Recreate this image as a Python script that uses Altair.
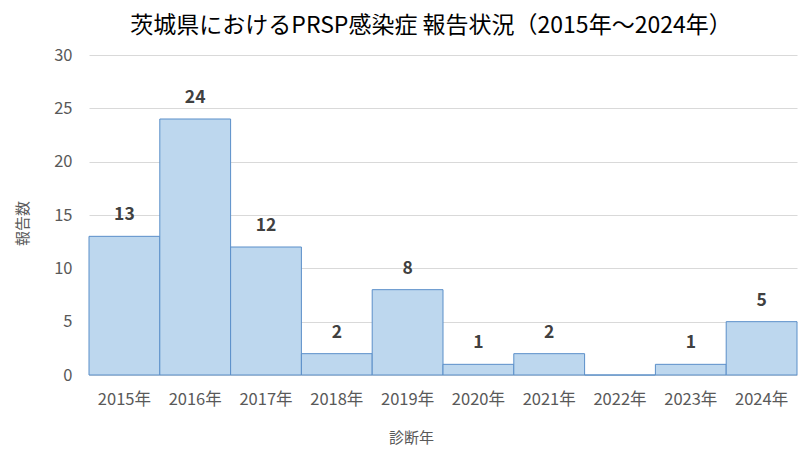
import altair as alt
import pandas as pd

years = ["2015年", "2016年", "2017年", "2018年", "2019年", "2020年", "2021年", "2022年", "2023年", "2024年"]
counts = [13, 24, 12, 2, 8, 1, 2, 0, 1, 5]
labels = ["13", "24", "12", "2", "8", "1", "2", "", "1", "5"]

df = pd.DataFrame({"year": years, "count": counts, "label": labels})

FONT = "Noto Sans CJK JP"

x = alt.X("year:N", sort=years,
          scale=alt.Scale(paddingInner=0, paddingOuter=0),
          axis=alt.Axis(title="診断年", labelAngle=0, labelFontSize=16.5, labelColor="#595959",
                        labelFont=FONT, labelPadding=16, ticks=False, domain=True,
                        domainColor="#D9D9D9", titleFontSize=15, titleColor="#595959",
                        titleFont=FONT, titleFontWeight="normal", titleX=322, titleY=62,
                        titleBaseline="middle", titleAnchor="start", titleAlign="center"))
y = alt.Y("count:Q",
          scale=alt.Scale(domain=[0, 30]),
          axis=alt.Axis(title="報告数", values=[0, 5, 10, 15, 20, 25, 30], labelFontSize=16.5,
                        labelColor="#595959", labelFont=FONT, labelPadding=17, ticks=False,
                        domain=False, gridColor="#D9D9D9", titleFontSize=15, titleColor="#595959",
                        titleFont=FONT, titleFontWeight="normal", titleX=-67, titleY=168,
                        titleAngle=-90, titleBaseline="middle", titleAlign="center", titleAnchor="start"))

bars = alt.Chart(df).mark_bar(fill="#BDD7EE", stroke="#5B8FC9", strokeWidth=1).encode(x=x, y=y)

text = alt.Chart(df).mark_text(fontSize=17.5, fontWeight="bold", color="#404040", dy=-21,
                               baseline="middle", font=FONT).encode(
    x=alt.X("year:N", sort=years), y="count:Q", text="label:N")

chart = (bars + text).properties(
    width=708, height=320,
    autosize=alt.AutoSizeParams(type="none"),
    padding={"left": 81, "top": 47, "right": 5, "bottom": 76},
    title=alt.TitleParams("茨城県におけるPRSP感染症 報告状況（2015年～2024年）", fontSize=23,
                          font=FONT, fontWeight="normal", color="#000000", anchor="middle",
                          dx=-12, offset=9),
).configure_view(stroke=None)

chart.save("out.html", embed_options={"renderer": "svg", "actions": False})
